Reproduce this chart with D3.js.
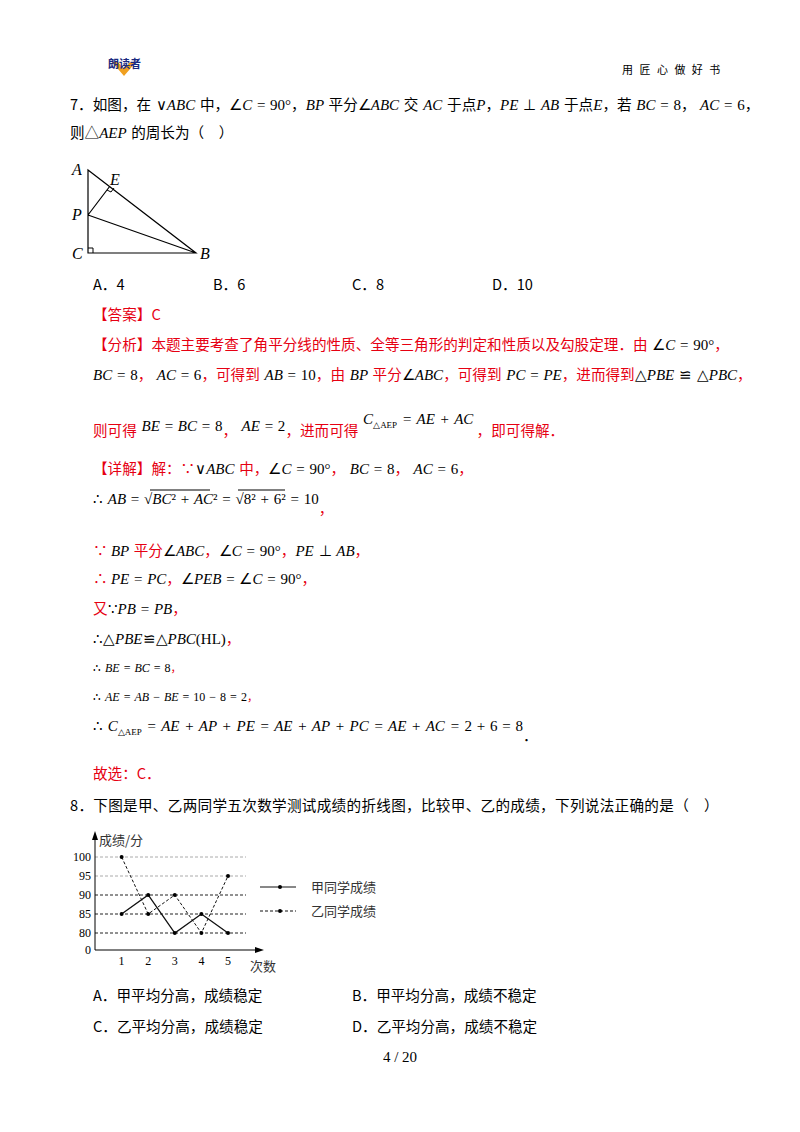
<!DOCTYPE html>
<html>
<head>
<meta charset="utf-8">
<script src="https://d3js.org/d3.v7.min.js"></script>
<style>
  body { margin: 0; background: #fff; }
  text { font-family: "Noto Sans CJK SC", sans-serif; font-size: 14.6px; }
  .m { font-family: "Liberation Serif", serif; font-style: italic; font-size: 15px; }
  .n { font-family: "Liberation Serif", serif; font-size: 15px; }
  .s { font-family: "Liberation Serif", serif; font-size: 9px; }
  .r { fill: #e60012; }
</style>
</head>
<body>
<svg width="800" height="1132"></svg>
<script>
// chart data
var tries = [1, 2, 3, 4, 5];
var jiaScores = [85, 90, 80, 85, 80];
var yiScores = [100, 85, 90, 80, 95];
var yTicks = [0, 80, 85, 90, 95, 100];
var seriesNames = ["甲同学成绩", "乙同学成绩"];

var svg = d3.select("svg");

// segments: [text, cls, dy]  cls: "" black cjk, "r" red cjk, "m" math italic, "n" math upright, "s" subscript
function line(x, y, segs, size) {
  var t = svg.append("text").attr("x", x).attr("y", y);
  if (size) t.style("font-size", size + "px");
  segs.forEach(function(s) {
    var sp = t.append("tspan").text(s[0]);
    if (s[1]) sp.attr("class", s[1]);
    if (s[1] === "m" || s[1] === "n") sp.style("word-spacing", "1px");
    if (size && (s[1] === "m" || s[1] === "n")) sp.style("font-size", (size + 1) + "px");
    if (s[2]) sp.attr("dy", s[2]);
  });
  return t;
}

// header
svg.append("path").attr("d", "M112,62 L124,76 L136,62 L130,62 L124,69 L118,62Z").attr("fill", "#f0a020");
svg.append("text").attr("x", 108).attr("y", 68).text("朗读者").style("font-size", "11px").style("font-weight", "bold").attr("fill", "#1a2a80");
svg.append("text").attr("x", 622).attr("y", 74).text("用 匠 心 做 好 书").style("font-size", "11px").style("letter-spacing", "2px");

// Q7
line(70, 110, [["7．如图，在"], [" ∨", "n"], ["ABC ", "m"], ["中，"], ["∠", "n"], ["C ", "m"], ["= 90°", "n"], ["，"], ["BP ", "m"], ["平分"], ["∠", "n"], ["ABC ", "m"], ["交"], [" AC ", "m"], ["于点"], ["P", "m"], ["，"], ["PE ", "m"], ["⊥ ", "n"], ["AB ", "m"], ["于点"], ["E", "m"], ["，若"], [" BC ", "m"], ["= 8", "n"], ["，"], [" AC ", "m"], ["= 6", "n"], ["，"]]);
line(70, 138, [["则△"], ["AEP ", "m"], ["的周长为（　）"]]);

// triangle figure
var A = [88, 170], C = [88, 253], B = [196, 253], P = [88, 215], E = [110, 186];
svg.append("path").attr("d", "M" + A + "L" + C + "L" + B + "Z M" + P + "L" + B + " M" + P + "L" + E)
  .attr("fill", "none").attr("stroke", "#000").attr("stroke-width", 1.2);
svg.append("path").attr("d", "M88,248 H93 V253").attr("fill", "none").attr("stroke", "#000");
svg.append("path").attr("d", "M107,190 L111,192 L114,188").attr("fill", "none").attr("stroke", "#000");
[["A", 72, 175], ["E", 110, 185], ["P", 72, 220], ["C", 72, 259], ["B", 200, 259]].forEach(function(l) {
  svg.append("text").attr("class", "m").attr("x", l[1]).attr("y", l[2]).text(l[0]).style("font-size", "16px");
});

line(93, 290, [["A．4"]]); line(213, 290, [["B．6"]]); line(352, 290, [["C．8"]]); line(492, 290, [["D．10"]]);

line(93, 320, [["【答案】C", "r"]]);
line(93, 350, [["【分析】本题主要考查了角平分线的性质、全等三角形的判定和性质以及勾股定理．由", "r"], [" ∠", "n"], ["C ", "m"], ["= 90°", "n"], ["，", "r"]]);
line(93, 380, [["BC ", "m"], ["= 8", "n"], ["，", "r"], [" AC ", "m"], ["= 6", "n"], ["，可得到", "r"], [" AB ", "m"], ["= 10", "n"], ["，由", "r"], [" BP ", "m"], ["平分", "r"], ["∠", "n"], ["ABC", "m"], ["，可得到", "r"], [" PC ", "m"], ["= ", "n"], ["PE", "m"], ["，进而得到", "r"], ["△", "n"], ["PBE ", "m"], ["≌ △", "n"], ["PBC", "m"], ["，", "r"]]);
line(93, 436, [["则可得", "r"], ["  BE ", "m", -5], ["= ", "n"], ["BC ", "m"], ["= 8", "n"], ["，", "r", 5], ["  AE ", "m", -5], ["= 2", "n"], ["，进而可得", "r", 5], ["  C", "m", -12], ["△AEP", "s", 4], [" = AE + AC", "m", -4], ["  ，即可得解．", "r", 12]]);

line(93, 474, [["【详解】解：∵", "r"], ["∨", "n"], ["ABC ", "m"], ["中，", "r"], ["∠", "n"], ["C ", "m"], ["= 90°", "n"], ["，", "r"], [" BC ", "m"], ["= 8", "n"], ["，", "r"], [" AC ", "m"], ["= 6", "n"], ["，", "r"]]);
line(93, 504, [["∴ ", "n"], ["AB", "m"], [" = √", "n"], ["BC", "m"], ["² + ", "n"], ["AC", "m"], ["² = √8² + 6² = 10", "n"], ["，", "r", 10]]);
svg.append("path").attr("d", "M150,490 H210 M238,490 H285").attr("stroke", "#000");
line(93, 556, [["∵ ", "r"], ["BP ", "m"], ["平分", "r"], ["∠", "n"], ["ABC", "m"], ["，", "r"], ["∠", "n"], ["C ", "m"], ["= 90°", "n"], ["，", "r"], ["PE ", "m"], ["⊥ ", "n"], ["AB", "m"], ["，", "r"]]);
line(93, 584, [["∴ ", "r"], ["PE ", "m"], ["= ", "n"], ["PC", "m"], ["，", "r"], ["∠", "n"], ["PEB ", "m"], ["= ∠", "n"], ["C ", "m"], ["= 90°", "n"], ["，", "r"]]);
line(93, 614, [["又", "r"], ["∵", "n"], ["PB ", "m"], ["= ", "n"], ["PB", "m"], ["，", "r"]]);
line(93, 644, [["∴△", "n"], ["PBE", "m"], ["≌△", "n"], ["PBC", "m"], ["(HL)", "n"], ["，", "r"]]);
line(93, 672, [["∴ ", "n"], ["BE ", "m"], ["= ", "n"], ["BC ", "m"], ["= 8", "n"], ["，", "r"]], 11);
line(93, 701, [["∴ ", "n"], ["AE ", "m"], ["= ", "n"], ["AB ", "m"], ["− ", "n"], ["BE ", "m"], ["= 10 − 8 = 2", "n"], ["，", "r"]], 11);
line(93, 731, [["∴ ", "n"], ["C", "m"], ["△AEP", "s", 4], [" = AE + AP + PE = AE + AP + PC = AE + AC = ", "m", -4], ["2 + 6 = 8", "n"], ["．", "", 10]]);
line(93, 779, [["故选：C．", "r"]]);

// Q8
line(70, 811, [["8．下图是甲、乙两同学五次数学测试成绩的折线图，比较甲、乙的成绩，下列说法正确的是（　）"]]).style("letter-spacing", "0.3px");

// line chart
var x = d3.scaleLinear().domain([0, 5]).range([95, 228]);
var y = d3.scaleLinear().domain([0, 80, 100]).range([950, 933, 857]);
var g = svg.append("g");
yTicks.filter(function(d) { return d > 0; }).forEach(function(d) {
  g.append("line").attr("x1", 95).attr("x2", 246).attr("y1", y(d)).attr("y2", y(d))
    .attr("stroke", d >= 95 ? "#aaa" : "#222").attr("stroke-width", 1).attr("stroke-dasharray", "3,2");
});
g.append("line").attr("x1", 95).attr("x2", 258).attr("y1", 950).attr("y2", 950).attr("stroke", "#000");
g.append("line").attr("x1", 95).attr("x2", 95).attr("y1", 950).attr("y2", 836).attr("stroke", "#000");
g.append("path").attr("d", "M95,831 L92,840 L98,840Z M264,950 L255,947 L255,953Z");
yTicks.forEach(function(d) {
  g.append("text").attr("class", "n").attr("x", 91).attr("y", y(d) + 4).attr("text-anchor", "end").style("font-size", "12px").text(d);
});
tries.forEach(function(d) {
  g.append("text").attr("class", "n").attr("x", x(d)).attr("y", 965).attr("text-anchor", "middle").style("font-size", "12px").text(d);
});
g.append("text").attr("x", 99).attr("y", 845).style("font-size", "13px").attr("fill", "#333").text("成绩/分");
g.append("text").attr("x", 250).attr("y", 971).style("font-size", "13px").attr("fill", "#333").text("次数");

var lineGen = d3.line().x(function(d, i) { return x(tries[i]); }).y(function(d) { return y(d); });
[[jiaScores, null], [yiScores, "3,2"]].forEach(function(s) {
  g.append("path").attr("d", lineGen(s[0])).attr("fill", "none").attr("stroke", "#111")
    .attr("stroke-width", s[1] ? 1 : 1.3).attr("stroke-dasharray", s[1]);
  s[0].forEach(function(v, i) {
    g.append("circle").attr("cx", x(tries[i])).attr("cy", y(v)).attr("r", 2);
  });
});
// legend
seriesNames.forEach(function(name, i) {
  var ly = 887 + i * 24;
  g.append("line").attr("x1", 260).attr("x2", 296).attr("y1", ly).attr("y2", ly).attr("stroke", "#111")
    .attr("stroke-dasharray", i ? "3,2" : null);
  g.append("circle").attr("cx", 280).attr("cy", ly).attr("r", 2);
  g.append("text").attr("x", 311).attr("y", ly + 5).style("font-size", "13px").attr("fill", "#333").text(name);
});

line(93, 1001, [["A．甲平均分高，成绩稳定"]]); line(352, 1001, [["B．甲平均分高，成绩不稳定"]]);
line(93, 1032, [["C．乙平均分高，成绩稳定"]]); line(352, 1032, [["D．乙平均分高，成绩不稳定"]]);
svg.append("text").attr("class", "n").attr("x", 400).attr("y", 1062).attr("text-anchor", "middle").style("font-style", "normal").text("4 / 20");
</script>
</body>
</html>
